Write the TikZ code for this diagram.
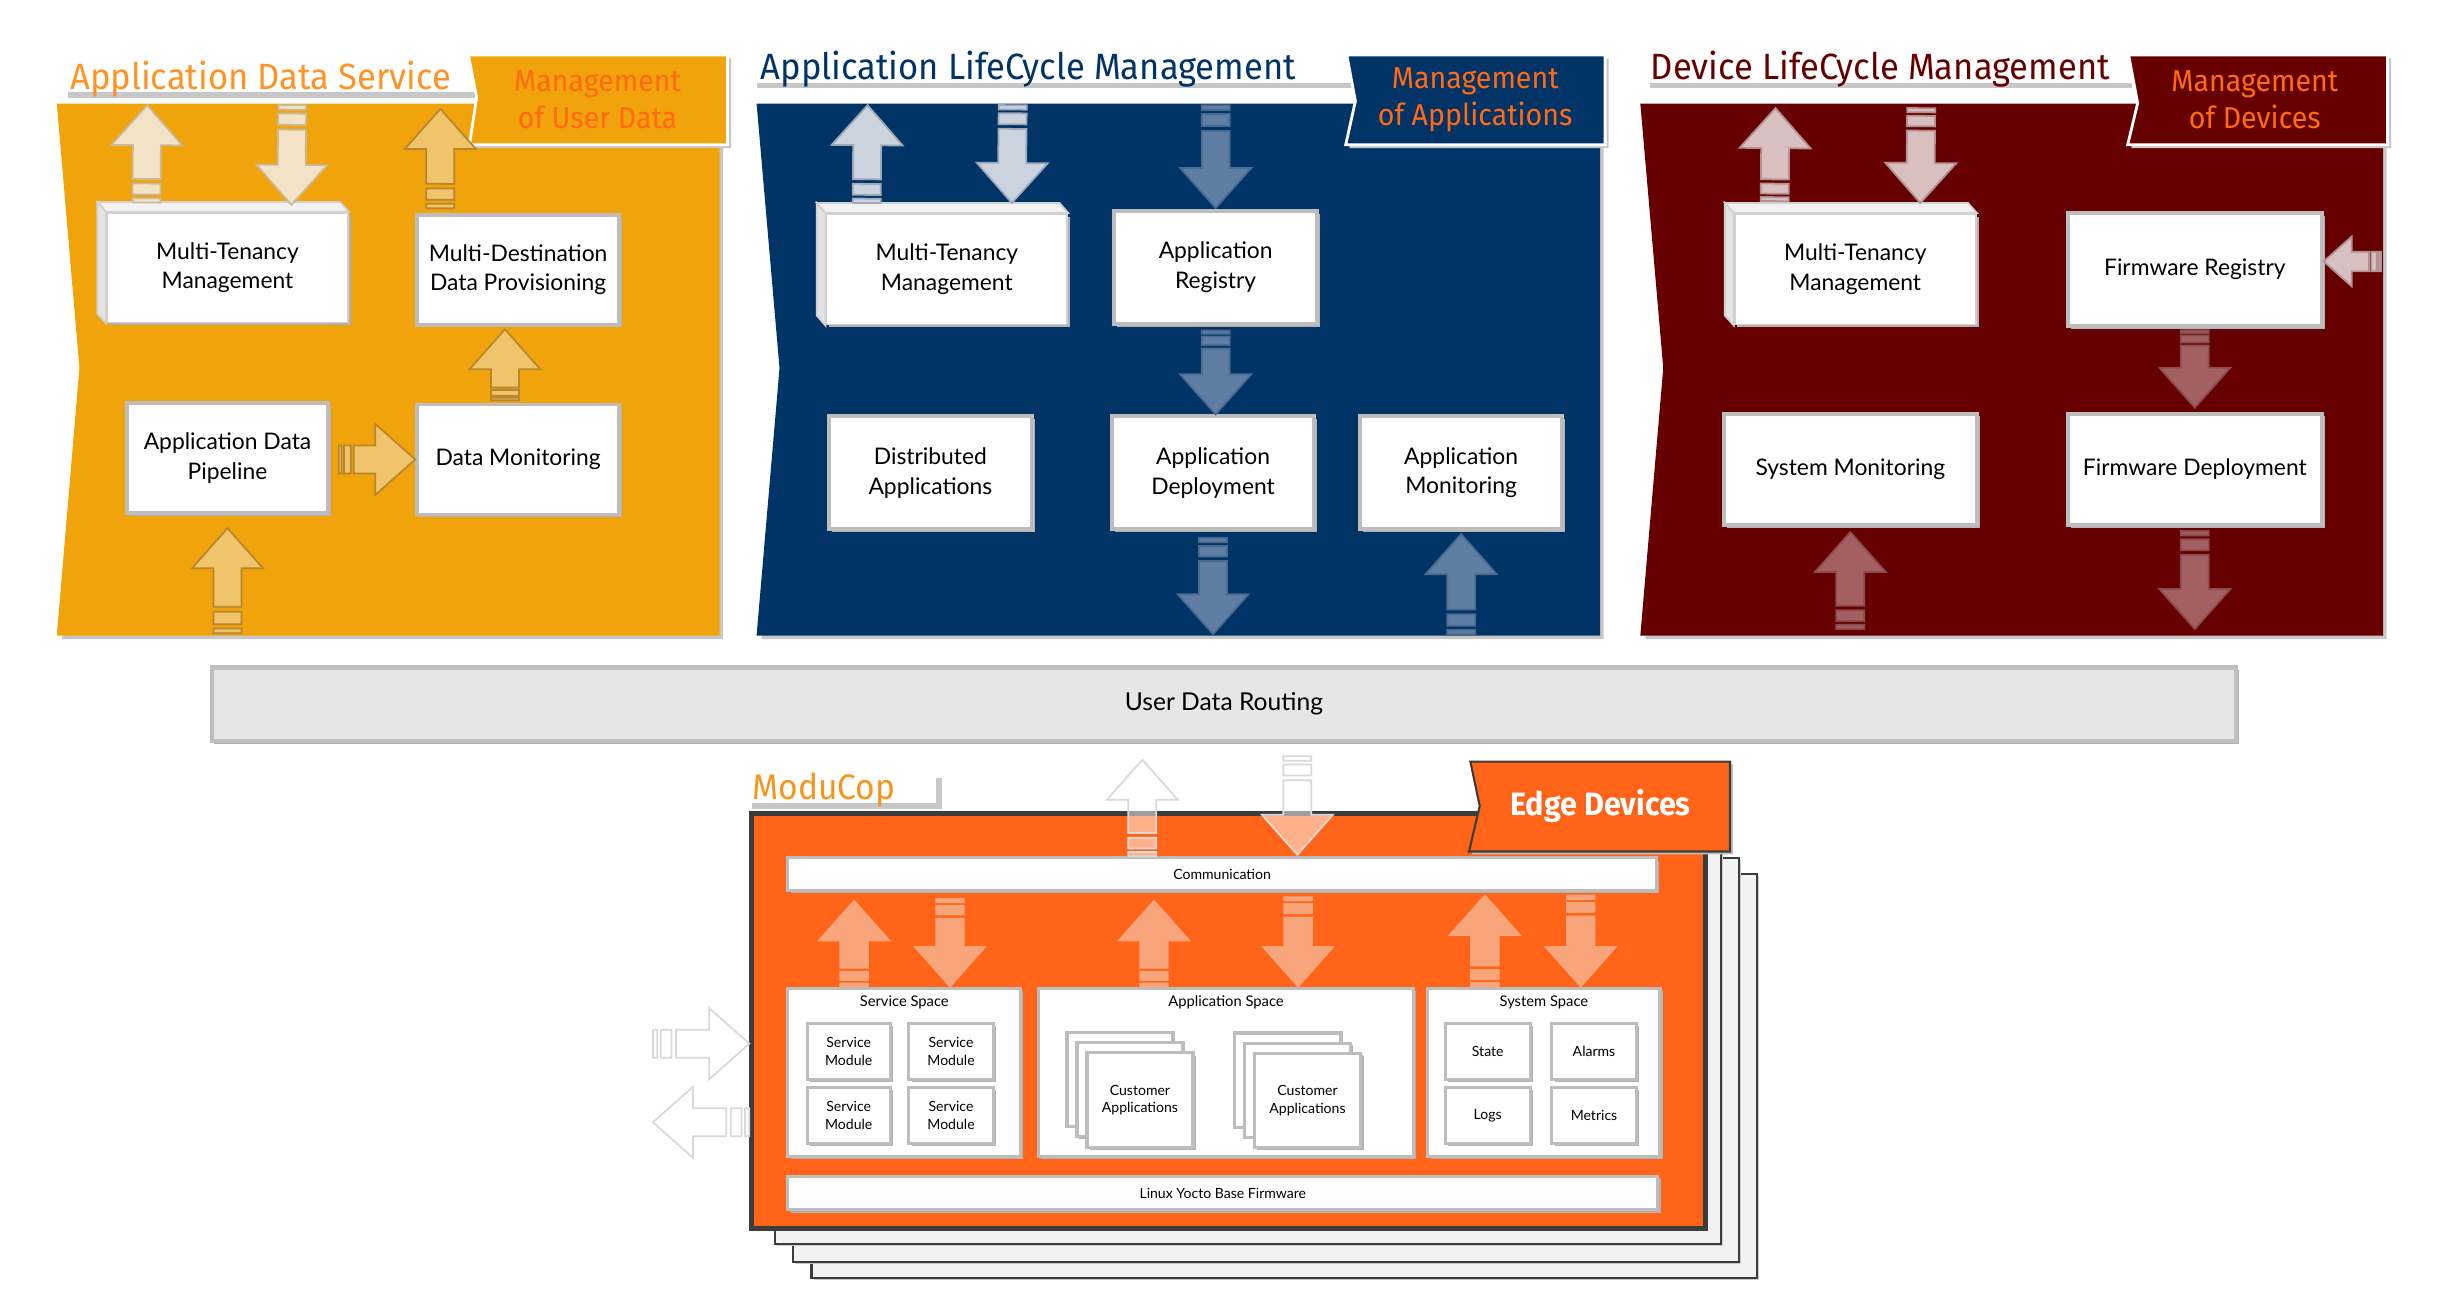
\documentclass[tikz,border=0pt]{standalone}
\usepackage{fontspec}
\setmainfont{Lato}
\newfontfamily\headfont[FakeStretch=0.945]{Fira Sans}
\usepackage{tikz}
\usetikzlibrary{calc,shadows}
\definecolor{adsorange}{HTML}{F0A30A}
\definecolor{almblue}{HTML}{003366}
\definecolor{dlmred}{HTML}{660000}
\definecolor{adstitle}{HTML}{FF9326}
\definecolor{tagorange}{HTML}{FF6A13}
\definecolor{mctitle}{HTML}{F7941D}
\definecolor{edgeorange}{HTML}{FF6418}
\definecolor{boxgray}{HTML}{BDBDBD}
\definecolor{darkframe}{HTML}{3C3C3C}
\definecolor{routegray}{HTML}{E6E6E6}
\definecolor{arrAlight}{HTML}{F2E3C6}
\definecolor{arrAlightline}{HTML}{C9B99B}
\definecolor{arrAfill}{HTML}{F0C46A}
\definecolor{arrAline}{HTML}{B7862F}
\definecolor{arrBlight}{HTML}{CBD3DE}
\definecolor{arrBlightline}{HTML}{9DA8B8}
\definecolor{arrBfill}{HTML}{5F7EA3}
\definecolor{arrBline}{HTML}{4A6A90}
\definecolor{arrClight}{HTML}{D8C0C1}
\definecolor{arrClightline}{HTML}{B39091}
\definecolor{arrCfill}{HTML}{A35F61}
\definecolor{arrCline}{HTML}{8C4B4C}
\definecolor{arrDfill}{HTML}{F9A57B}

\newcommand{\barrow}[4][1]{%
  \coordinate (ba-s) at (#2);
  \coordinate (ba-e) at (#3);
  \coordinate (ba-h) at ($(ba-e)!#1*0.4cm!(ba-s)$);
  \filldraw[#4]
    ($(ba-s)!0.41!(ba-h)!#1*0.14cm!90:(ba-e)$) --
    ($(ba-h)!#1*0.14cm!90:(ba-e)$) --
    ($(ba-h)!#1*0.355cm!90:(ba-e)$) -- (ba-e) --
    ($(ba-h)!#1*0.355cm!-90:(ba-e)$) --
    ($(ba-h)!#1*0.14cm!-90:(ba-e)$) --
    ($(ba-s)!0.41!(ba-h)!#1*0.14cm!-90:(ba-e)$) -- cycle
    ($(ba-s)!0.14!(ba-h)!#1*0.14cm!90:(ba-e)$) --
    ($(ba-s)!0.33!(ba-h)!#1*0.14cm!90:(ba-e)$) --
    ($(ba-s)!0.33!(ba-h)!#1*0.14cm!-90:(ba-e)$) --
    ($(ba-s)!0.14!(ba-h)!#1*0.14cm!-90:(ba-e)$) -- cycle
    ($(ba-s)!#1*0.14cm!90:(ba-e)$) --
    ($(ba-s)!0.075!(ba-h)!#1*0.14cm!90:(ba-e)$) --
    ($(ba-s)!0.075!(ba-h)!#1*0.14cm!-90:(ba-e)$) --
    ($(ba-s)!#1*0.14cm!-90:(ba-e)$) -- cycle;
}

\begin{document}
\begin{tikzpicture}[x=0.015561cm, y=-0.015561cm,
  boxsize/.style 2 args={minimum width=#1*0.015561cm, minimum height=#2*0.015561cm},
  panel/.style={drop shadow={shadow xshift=1.2pt, shadow yshift=-1.2pt, fill=black!22, opacity=1}},
  strip/.style={draw=black!22, line width=1.5pt},
  headtitle/.style={font=\headfont\fontsize{10.4}{12}\selectfont, inner sep=0pt},
  tagshape/.style={draw=white, line width=0.8pt, drop shadow={shadow xshift=1pt, shadow yshift=-1pt, fill=black!22, opacity=1}},
  tagtext/.style={font=\headfont\fontsize{8.6}{10.6}\selectfont, text=tagorange, align=center, inner sep=0pt},
  modbox/.style={draw=boxgray, line width=1.1pt, fill=white, inner sep=0pt, align=center, font=\fontsize{6.5}{8.5}\selectfont, drop shadow={shadow xshift=0.8pt, shadow yshift=-0.8pt, fill=black!30, opacity=1}},
  cube/.style={modbox, draw=black!18, line width=0.5pt},
  cubetop/.style={fill=black!5, draw=black!18, line width=0.5pt},
  cubeside/.style={fill=black!11, draw=black!18, line width=0.5pt},
  minibox/.style={modbox, line width=0.9pt, font=\fontsize{4}{5}\selectfont, drop shadow={shadow xshift=0.5pt, shadow yshift=-0.5pt, fill=black!30, opacity=1}},
  spacelbl/.style={font=\fontsize{4.2}{5}\selectfont, inner sep=0pt},
  page/.style={fill=black!5, draw=darkframe, line width=0.6pt, drop shadow={shadow xshift=0.6pt, shadow yshift=-0.6pt, fill=black!20, opacity=1}},
  cpage/.style={fill=white, draw=boxgray, line width=0.9pt, drop shadow={shadow xshift=0.5pt, shadow yshift=-0.5pt, fill=black!30, opacity=1}},
  arrlightA/.style={fill=arrAlight, draw=arrAlightline, line width=0.5pt},
  arrA/.style={fill=arrAfill, draw=arrAline, line width=0.5pt},
  arrlightB/.style={fill=arrBlight, draw=arrBlightline, line width=0.5pt},
  arrB/.style={fill=arrBfill, draw=arrBline, line width=0.5pt},
  arrlightC/.style={fill=arrClight, draw=arrClightline, line width=0.5pt},
  arrC/.style={fill=arrCfill, draw=arrCline, line width=0.5pt},
  arrD/.style={fill=arrDfill, draw=arrDfill, line width=0.4pt},
  arrE/.style={fill=white, fill opacity=0.5, draw=black!15, line width=0.5pt}]
\useasboundingbox (0,0) rectangle (1568,835);

\filldraw[panel, fill=adsorange, draw=adsorange] (37,67) -- (462,67) -- (462,408) -- (37,408) -- (51.5,236.5) -- cycle;
\filldraw[panel, fill=almblue, draw=almblue] (486.7,67) -- (1027.8,67) -- (1027.8,408) -- (486.7,408) -- (501.4,236.5) -- cycle;
\filldraw[panel, fill=dlmred, draw=dlmred] (1054.6,67) -- (1531,67) -- (1531,408) -- (1054.6,408) -- (1069.3,236.5) -- cycle;

\draw[strip] (44,61) -- (313.5,61) -- (313.5,41);
\draw[strip] (486.7,55) -- (870,55);
\draw[strip] (1060,55) -- (1370,55);
\node[headtitle, text=adstitle, anchor=base west] (ttlA) at (44.7,57.4) {Application Data Service};
\node[headtitle, text=almblue, anchor=base west] (ttlB) at (488.5,51) {Application LifeCycle Management};
\node[headtitle, text=dlmred, anchor=base west] (ttlC) at (1060.4,51) {Device LifeCycle Management};

\filldraw[tagshape, fill=adsorange] (301,35.3) -- (467.5,35.3) -- (467.5,93) -- (301.7,93) -- (306.3,62.5) -- cycle;
\filldraw[tagshape, fill=almblue] (865.5,35.3) -- (1031.5,35.3) -- (1031.5,93) -- (864.8,93) -- (871,65) -- cycle;
\filldraw[tagshape, fill=dlmred] (1367.9,35.3) -- (1534.2,35.3) -- (1534.2,93) -- (1367.3,93) -- (1373.7,66.3) -- cycle;
\node[tagtext] (tagA) at (384,64) {Management\\of User Data};
\node[tagtext] (tagB) at (948,64) {Management\\of Applications};
\node[tagtext] (tagC) at (1449,64) {Management\\of Devices};

\node[cube, boxsize={155}{70.6}] (mtA) at (146.2,172) {Multi-Tenancy\\Management};
\filldraw[cubetop] (mtA.north west) -- ++(-5.7,-6.4) -- ($(mtA.north east)+(-5.7,-6.4)$) -- (mtA.north east) -- cycle;
\filldraw[cubeside] (mtA.north west) -- ++(-5.7,-6.4) -- ($(mtA.south west)+(-5.7,-6.4)$) -- (mtA.south west) -- cycle;
\node[modbox, boxsize={129.7}{70.6}] (mdA) at (332.95,173.3) {Multi-Destination\\Data Provisioning};
\node[modbox, boxsize={129.2}{70.9}] (adpA) at (146.2,294.35) {Application Data\\Pipeline};
\node[modbox, boxsize={129.7}{70.7}] (dmA) at (332.95,295.25) {Data Monitoring};

\node[cube, boxsize={154.9}{71.2}] (mtB) at (608.45,173) {Multi-Tenancy\\Management};
\filldraw[cubetop] (mtB.north west) -- ++(-5.6,-6.4) -- ($(mtB.north east)+(-5.6,-6.4)$) -- (mtB.north east) -- cycle;
\filldraw[cubeside] (mtB.north west) -- ++(-5.6,-6.4) -- ($(mtB.south west)+(-5.6,-6.4)$) -- (mtB.south west) -- cycle;
\node[modbox, boxsize={130.2}{72.7}] (regB) at (781.2,171.75) {Application\\Registry};
\node[modbox, boxsize={130.2}{72.5}] (distB) at (597.9,303.75) {Distributed\\Applications};
\node[modbox, boxsize={129.9}{72.5}] (depB) at (779.55,303.75) {Application\\Deployment};
\node[modbox, boxsize={129.9}{72.5}] (monB) at (938.95,303.75) {Application\\Monitoring};

\node[cube, boxsize={155.1}{71.2}] (mtC) at (1192.25,173) {Multi-Tenancy\\Management};
\filldraw[cubetop] (mtC.north west) -- ++(-5.7,-6.4) -- ($(mtC.north east)+(-5.7,-6.4)$) -- (mtC.north east) -- cycle;
\filldraw[cubeside] (mtC.north west) -- ++(-5.7,-6.4) -- ($(mtC.south west)+(-5.7,-6.4)$) -- (mtC.south west) -- cycle;
\node[modbox, boxsize={163.1}{72.6}] (fwrC) at (1410.45,173) {Firmware Registry};
\node[modbox, boxsize={162.7}{71.6}] (sysC) at (1189.05,301.6) {System Monitoring};
\node[modbox, boxsize={163.1}{71.6}] (fwdC) at (1410.45,301.6) {Firmware Deployment};

\coordinate (adsTop) at (0,67.6);
\coordinate (adsBot) at (0,407);
\coordinate (mdOut) at (283,70);
\coordinate (almTop) at (0,67.6);
\coordinate (almBot) at (0,407.5);
\coordinate (dlmTop) at (0,69.5);
\coordinate (dlmBot) at (0,404.2);
\coordinate (dlmIn) at (1530,168);

\barrow{$(mtA.north west)+(26,-6)$}{94.6,0 |- adsTop}{arrlightA}
\barrow{187.8,0 |- adsTop}{$(mtA.north west)+(119.1,-4.5)$}{arrlightA}
\barrow{$(mdA.north)+(-50,-3)$}{mdOut}{arrA}
\barrow{$(dmA.north)+(-8.5,-1.5)$}{$(mdA.south)+(-8.5,1.8)$}{arrA}
\barrow{$(adpA.east |- dmA.west)+(5.7,0)$}{dmA.west}{arrA}
\barrow{146.2,0 |- adsBot}{$(adpA.south)+(0,8.4)$}{arrA}

\barrow{$(mtB.north west)+(26.5,-6.4)$}{557.5,0 |- almTop}{arrlightB}
\barrow{650.8,0 |- almTop}{$(mtB.north west)+(119.8,-6.4)$}{arrlightB}
\barrow{regB.north |- almTop}{$(regB.north)+(0,-0.5)$}{arrB}
\barrow{$(regB.south)+(0,3)$}{regB.south |- depB.north}{arrB}
\barrow{$(depB.south)+(0,4.5)$}{depB.south |- almBot}{arrB}
\barrow{monB.south |- almBot}{$(monB.south)+(0,2)$}{arrB}

\barrow{$(mtC.north west)+(26.3,-7.6)$}{1141,0 |- dlmTop}{arrlightC}
\barrow{1234.6,0 |- dlmTop}{$(mtC.north west)+(119.9,-6.4)$}{arrlightC}
\barrow[0.7]{dlmIn}{fwrC.east |- dlmIn}{arrlightC}
\barrow{$(fwrC.south)+(0,1.7)$}{$(fwdC.north)+(0,-2.6)$}{arrC}
\barrow{sysC.south |- dlmBot}{$(sysC.south)+(0,3.3)$}{arrC}
\barrow{$(fwdC.south)+(0,2.6)$}{fwdC.south |- dlmBot}{arrC}

\node[modbox, fill=routegray, draw=black!25, line width=1.2pt, font=\fontsize{7}{8.5}\selectfont, boxsize={1301}{47}] (udr) at (786.5,452.5) {User Data Routing};

\draw[page] (521.5,561.7) rectangle (1129.3,821);
\draw[page] (509.5,551.3) rectangle (1117.7,811.1);
\draw[page] (497.9,540) rectangle (1106.1,799.2);
\node[fill=edgeorange, draw=darkframe, line width=1.4pt, inner sep=0pt, boxsize={612.8}{267}] (mcBox) at (789.5,656.1) {};

\draw[strip] (483,518) -- (603.5,518) -- (603.5,500);
\node[headtitle, font=\headfont\fontsize{10.1}{12}\selectfont, text=mctitle, anchor=base west] (ttlD) at (483.1,513.5) {ModuCop};

\node[minibox, boxsize={558.1}{20.7}] (commD) at (785.35,561.65) {Communication};
\node[minibox, boxsize={149.6}{107.9}] (svcD) at (581.1,689.05) {};
\node[minibox, boxsize={240.9}{107.9}] (appD) at (787.85,689.05) {};
\node[minibox, boxsize={149.1}{107.9}] (sysD) at (992.15,689.05) {};
\node[spacelbl] (svcL) at ($(svcD.north)+(0,10.3)$) {Service Space};
\node[spacelbl] (appL) at ($(appD.north)+(0,10.3)$) {Application Space};
\node[spacelbl] (sysL) at ($(sysD.north)+(0,10.3)$) {System Space};
\node[minibox, boxsize={53.2}{36}] (smA) at (545.4,675.6) {Service\\Module};
\node[minibox, boxsize={54.3}{36}] (smB) at (611.15,675.6) {Service\\Module};
\node[minibox, boxsize={53.2}{36.2}] (smC) at (545.4,716.8) {Service\\Module};
\node[minibox, boxsize={54.3}{36.2}] (smD) at (611.15,716.8) {Service\\Module};
\filldraw[cpage] (685.7,663.4) rectangle (753.8,724);
\filldraw[cpage] (692.1,670) rectangle (760.2,730.6);
\node[minibox, boxsize={68.1}{60.6}] (caA) at (732.55,706.9) {Customer\\Applications};
\filldraw[cpage] (793.2,663.8) rectangle (861.7,724.4);
\filldraw[cpage] (799.6,670.4) rectangle (868.1,731);
\node[minibox, boxsize={68.5}{60.2}] (caB) at (840.25,707.1) {Customer\\Applications};
\node[minibox, boxsize={54.7}{36}] (stD) at (956.05,675.6) {State};
\node[minibox, boxsize={54.3}{36}] (alD) at (1024.35,675.6) {Alarms};
\node[minibox, boxsize={54.7}{36.2}] (lgD) at (956.05,716.8) {Logs};
\node[minibox, boxsize={54.3}{36.2}] (meD) at (1024.35,716.8) {Metrics};
\node[minibox, boxsize={559}{21.4}] (linD) at (785.8,766.7) {Linux Yocto Base Firmware};

\barrow{548.9,0 |- svcD.north}{$(548.9,0 |- commD.south)+(0,5.7)$}{arrD}
\barrow{$(610.5,0 |- commD.south)+(0,4.6)$}{610.5,0 |- svcD.north}{arrD}
\barrow{741.6,0 |- appD.north}{$(741.6,0 |- commD.south)+(0,5.7)$}{arrD}
\barrow{$(834.2,0 |- commD.south)+(0,3.4)$}{834.2,0 |- appD.north}{arrD}
\barrow{954.2,0 |- sysD.north}{$(954.2,0 |- commD.south)+(0,2.3)$}{arrD}
\barrow{$(1015.8,0 |- commD.south)+(0,2.3)$}{1015.8,0 |- sysD.north}{arrD}

\coordinate (mcUp) at (734.1,488.2);
\coordinate (mcDown) at (833.7,486);
\coordinate (mcIn) at (419.6,670.7);
\coordinate (mcOut) at (419.6,721.2);
\barrow{734.1,0 |- commD.north}{mcUp}{arrE}
\barrow{mcDown}{$(833.7,0 |- commD.north)+(0,-1)$}{arrE}
\barrow{mcIn}{mcBox.west |- mcIn}{arrE}
\barrow{mcBox.west |- mcOut}{mcOut}{arrE}

\filldraw[fill=edgeorange, draw=darkframe, line width=0.6pt, drop shadow={shadow xshift=0.8pt, shadow yshift=-0.8pt, fill=black!25, opacity=1}] (944.9,489.4) -- (1111.7,489.4) -- (1111.7,547.2) -- (944,547.2) -- (950.9,518) -- cycle;
\node[font=\headfont\bfseries\fontsize{9.2}{11}\selectfont, text=white, inner sep=0pt] (edgeT) at (1028.5,518) {Edge Devices};
\end{tikzpicture}
\end{document}
